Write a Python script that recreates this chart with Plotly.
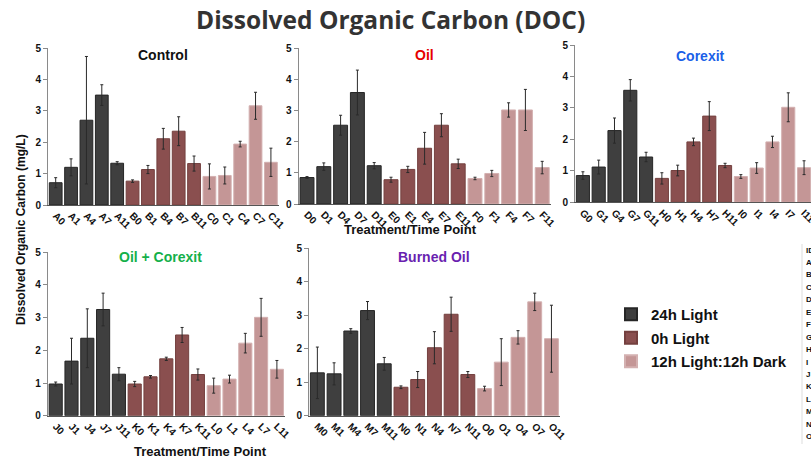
import plotly.graph_objects as go

# ---------------- data ----------------
chart_title = "Dissolved Organic Carbon (DOC)"
y_title = "Dissolved Organic Carbon (mg/L)"
x_title = "Treatment/Time Point"
conditions = ["24h Light", "0h Light", "12h Light:12h Dark"]
panel_names = ["Control", "Oil", "Corexit", "Oil + Corexit", "Burned Oil"]

control_labels = ["A0", "A1", "A4", "A7", "A11", "B0", "B1", "B4", "B7", "B11", "C0", "C1", "C4", "C7", "C11"]
control_values = [0.71, 1.20, 2.70, 3.50, 1.33, 0.76, 1.13, 2.11, 2.35, 1.32, 0.91, 0.94, 1.94, 3.16, 1.36]
control_errors = [0.16, 0.27, 2.03, 0.33, 0.05, 0.04, 0.13, 0.33, 0.46, 0.24, 0.40, 0.27, 0.09, 0.43, 0.45]

oil_labels = ["D0", "D1", "D4", "D7", "D11", "E0", "E1", "E4", "E7", "E11", "F0", "F1", "F4", "F7", "F11"]
oil_values = [0.85, 1.20, 2.53, 3.58, 1.23, 0.78, 1.11, 1.79, 2.53, 1.29, 0.82, 0.98, 3.02, 3.02, 1.17]
oil_errors = [0.03, 0.12, 0.32, 0.72, 0.10, 0.08, 0.10, 0.51, 0.37, 0.15, 0.04, 0.10, 0.23, 0.66, 0.20]

corexit_labels = ["G0", "G1", "G4", "G7", "G11", "H0", "H1", "H4", "H7", "H11", "I0", "I1", "I4", "I7", "I11"]
corexit_values = [0.85, 1.12, 2.28, 3.56, 1.44, 0.76, 1.01, 1.92, 2.74, 1.17, 0.82, 1.09, 1.92, 3.02, 1.10]
corexit_errors = [0.12, 0.22, 0.40, 0.34, 0.15, 0.18, 0.17, 0.12, 0.46, 0.07, 0.06, 0.17, 0.18, 0.46, 0.22]

oilcorexit_labels = ["J0", "J1", "J4", "J7", "J11", "K0", "K1", "K4", "K7", "K11", "L0", "L1", "L4", "L7", "L11"]
oilcorexit_values = [0.97, 1.67, 2.37, 3.25, 1.27, 0.97, 1.19, 1.74, 2.47, 1.26, 0.92, 1.12, 2.22, 3.01, 1.42]
oilcorexit_errors = [0.06, 0.70, 0.90, 0.50, 0.20, 0.08, 0.04, 0.05, 0.23, 0.17, 0.23, 0.12, 0.30, 0.58, 0.27]

burned_labels = ["M0", "M1", "M4", "M7", "M11", "N0", "N1", "N4", "N7", "N11", "O0", "O1", "O4", "O7", "O11"]
burned_values = [1.28, 1.25, 2.53, 3.14, 1.55, 0.85, 1.08, 2.03, 3.03, 1.23, 0.81, 1.60, 2.34, 3.40, 2.30]
burned_errors = [0.77, 0.33, 0.07, 0.27, 0.19, 0.04, 0.24, 0.48, 0.51, 0.09, 0.07, 0.70, 0.20, 0.26, 1.00]

y_ticks = [0, 1, 2, 3, 4, 5]
table_ids = ["ID", "A", "B", "C", "D", "E", "F", "G", "H", "I", "J", "K", "L", "M", "N", "O"]

# ---------------- style ----------------
W, H = 811, 460
FONT = "Liberation Sans, Arial, sans-serif"
bar_colors = ["#3f3f3f", "#8a4f4f", "#c49696"]
bar_lines = ["#262626", "#74403f", "#d3b0b0"]
title_colors = ["#111111", "#e60000", "#1a5fe8", "#14b04a", "#6a1fb0"]

panels = [
    dict(labels=control_labels, values=control_values, errors=control_errors,
         x0=48, x1=278.6, y0=205, y1=48, title_x=163, title_y=55, rng_end=14.5),
    dict(labels=oil_labels, values=oil_values, errors=oil_errors,
         x0=298.6, x1=550.6, y0=204, y1=48.3, title_x=424, title_y=55, rng_end=14.5),
    dict(labels=corexit_labels, values=corexit_values, errors=corexit_errors,
         x0=575, x1=811, y0=202.3, y1=45, title_x=700, title_y=56, rng_end=14.44),
    dict(labels=oilcorexit_labels, values=oilcorexit_values, errors=oilcorexit_errors,
         x0=47.8, x1=284.8, y0=415.7, y1=252.3, title_x=160, title_y=257, rng_end=14.5),
    dict(labels=burned_labels, values=burned_values, errors=burned_errors,
         x0=309, x1=559.8, y0=415.7, y1=248.3, title_x=434, title_y=257, rng_end=14.5),
]

fig = go.Figure()
annotations = []

for p_i, p in enumerate(panels):
    suffix = "" if p_i == 0 else str(p_i + 1)
    for g in range(3):
        sl = slice(g * 5, g * 5 + 5)
        fig.add_trace(go.Bar(
            x=p["labels"][sl], y=p["values"][sl],
            name=conditions[g], legendgroup=conditions[g], showlegend=(p_i == 0),
            marker=dict(color=bar_colors[g], line=dict(color=bar_lines[g], width=1)),
            error_y=dict(type="data", array=p["errors"][sl], color="#2a2a2a",
                         thickness=1, width=1.5),
            xaxis="x" + suffix, yaxis="y" + suffix,
        ))
    xa = dict(domain=[p["x0"] / W, p["x1"] / W], anchor="y" + suffix,
              type="category", categoryorder="array", categoryarray=p["labels"],
              range=[-0.5, p["rng_end"]], showline=True, linecolor="#555555", linewidth=1,
              ticks="", tickangle=45, showgrid=False, zeroline=False,
              tickfont=dict(family=FONT, size=10, color="#111111", weight="bold"),
              automargin=False, fixedrange=True)
    ya = dict(domain=[1 - p["y0"] / H, 1 - p["y1"] / H], anchor="x" + suffix,
              range=[0, 5], tickvals=y_ticks, showline=True, linecolor="#8a8a8a",
              linewidth=1, ticks="outside", ticklen=4, tickcolor="#8a8a8a",
              showgrid=False, zeroline=False,
              tickfont=dict(family=FONT, size=10, color="#111111", weight="bold"),
              automargin=False, fixedrange=True)
    fig.update_layout(**{"xaxis" + suffix: xa, "yaxis" + suffix: ya})
    annotations.append(dict(text=panel_names[p_i], x=p["title_x"] / W, y=1 - p["title_y"] / H,
                            xref="paper", yref="paper", showarrow=False,
                            xanchor="center", yanchor="middle",
                            font=dict(family=FONT, size=14, color=title_colors[p_i], weight="bold")))

# chart title
annotations.append(dict(text=chart_title, x=390 / W, y=1 - 20 / H, xref="paper", yref="paper",
                        showarrow=False, xanchor="center", yanchor="middle",
                        font=dict(family="Open Sans, sans-serif", size=24.5, color="#333333",
                                  weight="bold")))
# axis titles
annotations.append(dict(text=y_title, x=21 / W, y=1 - 230 / H, xref="paper", yref="paper",
                        showarrow=False, textangle=-90, xanchor="center", yanchor="middle",
                        font=dict(family=FONT, size=12, color="#111111", weight="bold")))
annotations.append(dict(text=x_title, x=410 / W, y=1 - 229 / H, xref="paper", yref="paper",
                        showarrow=False, xanchor="center", yanchor="middle",
                        font=dict(family=FONT, size=13, color="#111111", weight="bold")))
annotations.append(dict(text=x_title, x=200 / W, y=1 - 451 / H, xref="paper", yref="paper",
                        showarrow=False, xanchor="center", yanchor="middle",
                        font=dict(family=FONT, size=13, color="#111111", weight="bold")))
# cut-off key table at the right edge
for i, t in enumerate(table_ids):
    annotations.append(dict(text=t, x=804 / W, y=1 - (250 + i * 12.45) / H,
                            xref="paper", yref="paper", showarrow=False,
                            xanchor="left", yanchor="middle",
                            font=dict(family=FONT, size=8, color="#111111", weight="bold")))

fig.update_layout(
    width=W, height=H, autosize=False,
    margin=dict(l=0, r=0, t=0, b=0),
    paper_bgcolor="white", plot_bgcolor="white",
    barmode="group", bargap=0.17,
    annotations=annotations,
    shapes=[dict(type="line", xref="paper", yref="paper", x0=802 / W, x1=802 / W,
                 y0=1 - 244 / H, y1=1 - 444 / H, line=dict(color="#dddddd", width=1))],
    legend=dict(x=611 / W, y=1 - 298 / H, xanchor="left", yanchor="top",
                bgcolor="rgba(0,0,0,0)",
                font=dict(family=FONT, size=15, color="#111111", weight="bold"),
                tracegroupgap=1, itemsizing="constant"),
    showlegend=True,
)

fig.write_html("out.html", config={"displayModeBar": False},
               post_script="document.body.style.margin='0px';document.body.style.overflow='hidden';")
